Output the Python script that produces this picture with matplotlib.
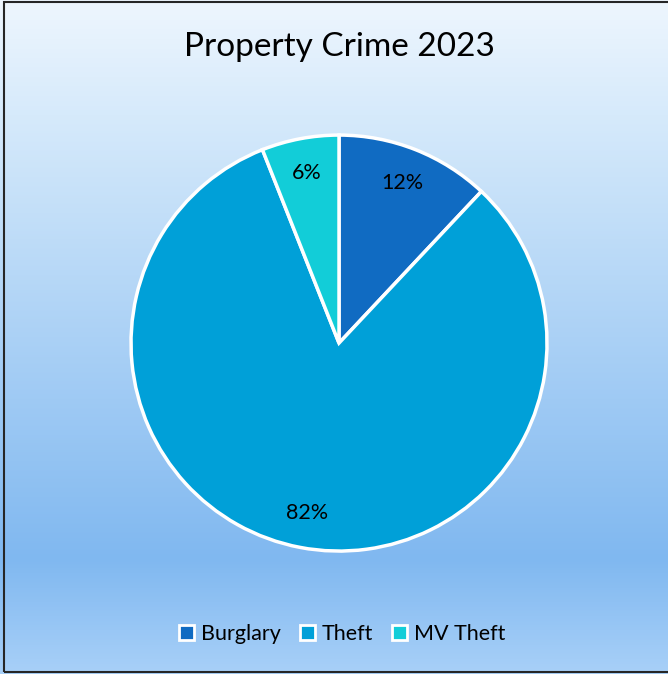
import numpy as np
import matplotlib.pyplot as plt
from matplotlib.patches import Patch, Rectangle

plt.rcParams['font.family'] = ['Lato', 'DejaVu Sans']

categories = ['Burglary', 'Theft', 'MV Theft']
shares = [12, 82, 6]
colors = ['#106BC2', '#00A0D8', '#12CDD8']
title = 'Property Crime 2023'

fig = plt.figure(figsize=(6.68, 6.74), dpi=100)

# vertical gradient backdrop: pale at top, deepest blue near the legend
bg = fig.add_axes([0, 0, 1, 1], zorder=0)
stops_y = [0.0, 0.17, 0.83, 1.0]
stops_c = np.array([[0xEE, 0xF6, 0xFE], [0xD6, 0xEA, 0xFB], [0x80, 0xB8, 0xF0], [0xA8, 0xD0, 0xF8]]) / 255
yy = np.linspace(0, 1, 400)
grad = np.stack([np.interp(yy, stops_y, stops_c[:, k]) for k in range(3)], axis=-1)
bg.imshow(grad[:, None, :], aspect='auto', extent=[0, 1, 1, 0])
bg.set_xlim(0, 1)
bg.set_ylim(1, 0)
bg.axis('off')
bg.add_patch(Rectangle((0.006, 0.003), 1.2, 0.994, fill=False, edgecolor='#262626',
                       linewidth=1.5, transform=bg.transAxes))

ax = fig.add_axes([0.5075 - 0.3114, 0.491 - 0.3086, 0.6228, 0.6172], zorder=1)
wedges, texts = ax.pie(shares, colors=colors, startangle=90, counterclock=False,
                       wedgeprops=dict(edgecolor='white', linewidth=2.5))
for w, s in zip(wedges, shares):
    ang = np.deg2rad((w.theta1 + w.theta2) / 2)
    ax.text(0.83 * np.cos(ang), 0.83 * np.sin(ang), f'{s}%', ha='center', va='center',
            fontsize=15.5, color='black')
ax.set_xlim(-1, 1)
ax.set_ylim(-1, 1)
ax.set_aspect('equal')

fig.text(0.5075, 1 - 47 / 674, title, ha='center', va='center', fontsize=24, color='black')

handles = [Patch(facecolor=c, edgecolor='white', linewidth=2) for c in colors]
fig.legend(handles, categories, loc='center', bbox_to_anchor=(0.512, 1 - 634 / 674), ncol=3,
           frameon=False, fontsize=15.5, handlelength=0.7, handleheight=0.7,
           handletextpad=0.3, columnspacing=0.9)

fig.savefig('out.png', dpi=100)
